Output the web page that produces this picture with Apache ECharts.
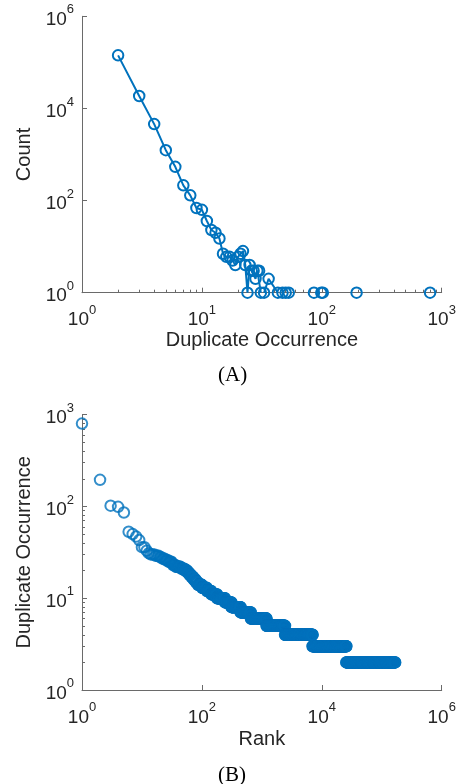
<!DOCTYPE html>
<html><head><meta charset="utf-8">
<script src="https://cdn.jsdelivr.net/npm/echarts@6/dist/echarts.min.js"></script>
<style>html,body{margin:0;padding:0;background:#fff}#c{width:461px;height:784px}</style>
</head><body><div id="c"></div>
<script>
// Panel A: duplicate occurrence vs count
const occurrence = [2,3,4,5,6,7,8,9,10,11,12,13,14,15,16,17,18,19,20,21,22,23,24,25,26,27,28,29,30,31,33,36,43,47,50,53,86,99,102,195,800];
const count = [142000,18600,4570,1240,540,214,130,69,63,36,23,20,15,7,6,6,5,4,6,7,8,4,1,4,3,3,2,3,3,1,1,2,1,1,1,1,1,1,1,1,1];
// Tick labels
const xTicksA = [1,10,100,1000];
const yTicksA = [1,100,10000,1000000];
const xTicksB = [1,100,10000,1000000];
const yTicksB = [1,10,100,1000];
const minorMult = [2,3,4,5,6,7,8,9];

const FONT = 'Liberation Sans, Arial, Helvetica, sans-serif';
const TXT = '#262626';
const AX = '#6a6a6a';
const BLUE = '#0072BD';

function minorList(d0, d1) { const r=[]; for (let d=d0; d<d1; d++) minorMult.forEach(m=>r.push(m*Math.pow(10,d))); return r; }

// Panel B: rank plot derived from panel A (sorted by occurrence, descending)
const pairs = occurrence.map((o,i)=>[o,count[i]]).sort((a,b)=>b[0]-a[0]);
const rankData = [];
let rank = 0;
pairs.forEach(([o,c]) => {
  let last = -Infinity;
  for (let k=1;k<=c;k++){ rank++; const lr=Math.log10(rank);
    if (k===1 || k===c || lr-last>=0.004) { rankData.push([rank,o]); last=lr; } }
});
// line segments lying on the bottom axis (count 1 to count 1) are hidden under the axis
const lineData = [];
occurrence.forEach((o,i)=>{
  if (i>0 && count[i]===1 && count[i-1]===1) lineData.push(['-','-']);
  lineData.push([o,count[i]]);
});

const rich = {
  b:{fontSize:19,lineHeight:26,fontFamily:FONT,color:TXT,verticalAlign:'bottom'},
  s:{fontSize:13,lineHeight:13,fontFamily:FONT,color:TXT,verticalAlign:'top'}
};
const fmt = v => '{b|10}{s|' + Math.round(Math.log10(v)) + '}';

function mainAxis(gi, min, max, ticks, pos, name, gap, margin) {
  return { type:'log', logBase:10, gridIndex:gi, min, max, position:pos,
    name, nameLocation:'middle', nameGap:gap,
    nameTextStyle:{fontFamily:FONT,fontSize:20,color:TXT},
    axisLine:{show:true,lineStyle:{color:AX,width:1}},
    axisTick:{show:true,inside:true,length:5,customValues:ticks,lineStyle:{color:AX,width:1}},
    axisLabel:{show:true,customValues:ticks,formatter:fmt,rich,margin},
    splitLine:{show:false}, minorTick:{show:false} };
}
function minorAxis(gi, min, max, ticks, pos) {
  return { type:'log', logBase:10, gridIndex:gi, min, max, position:pos,
    axisLine:{show:false},
    axisTick:{show:true,inside:true,length:3,customValues:ticks,lineStyle:{color:AX,width:1}},
    axisLabel:{show:false}, splitLine:{show:false} };
}

const option = {
  animation:false,
  backgroundColor:'#fff',
  grid:[{left:82,top:16.3,width:359.7,height:276.4},{left:82,top:414.7,width:359.7,height:275.3}],
  xAxis:[
    mainAxis(0,1,1000,xTicksA,'bottom','Duplicate Occurrence',37,11),
    mainAxis(1,1,1e6,xTicksB,'bottom','Rank',39,11),
    minorAxis(0,1,1000,minorList(0,3),'bottom')
  ],
  yAxis:[
    mainAxis(0,1,1e6,yTicksA,'left','Count',48,8),
    mainAxis(1,1,1000,yTicksB,'left','Duplicate Occurrence',47,8),
    minorAxis(1,1,1000,minorList(0,3),'left')
  ],
  series:[
    { type:'line', xAxisIndex:0, yAxisIndex:0, data:lineData, clip:false, connectNulls:false,
      symbol:'circle', symbolSize:10.5, showAllSymbol:true,
      lineStyle:{color:BLUE,width:2},
      itemStyle:{color:'rgba(0,0,0,0)',borderColor:BLUE,borderWidth:2} },
    { type:'scatter', xAxisIndex:1, yAxisIndex:1, data:rankData, clip:false,
      symbol:'circle', symbolSize:10.5,
      itemStyle:{color:'rgba(0,0,0,0)',borderColor:BLUE,borderWidth:2} }
  ],
  graphic:[
    {type:'text',left:218,top:365,style:{text:'(A)',font:'21px "Liberation Serif", "Times New Roman", serif',fill:'#000'}},
    {type:'text',left:218,top:765,style:{text:'(B)',font:'21px "Liberation Serif", "Times New Roman", serif',fill:'#000'}}
  ]
};
const chart = echarts.init(document.getElementById('c'), null, {renderer:'canvas'});
chart.setOption(option);
</script></body></html>
